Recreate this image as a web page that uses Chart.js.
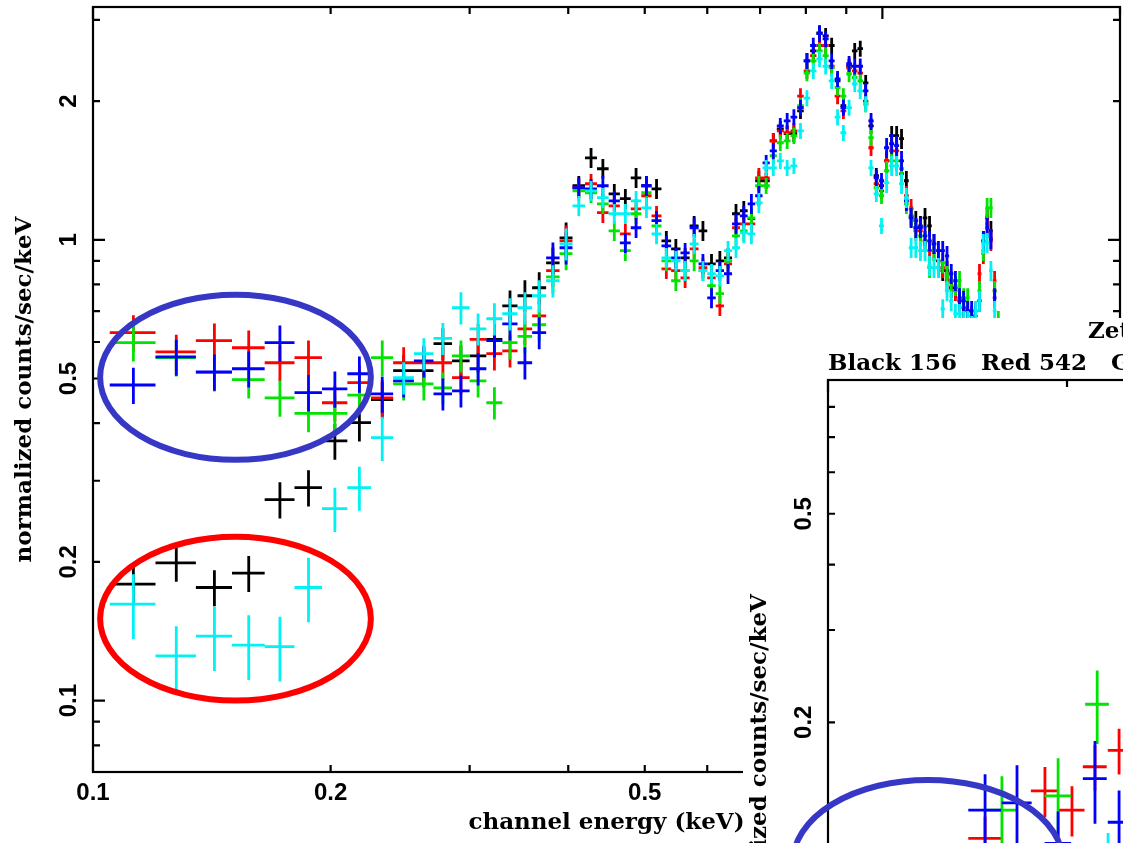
<!DOCTYPE html>
<html>
<head>
<meta charset="utf-8">
<title>Spectrum</title>
<script src="https://cdn.jsdelivr.net/npm/chart.js@4.4.1/dist/chart.umd.min.js"></script>
<style>
  html, body { margin: 0; padding: 0; background: #fff; }
  #page { position: relative; width: 1123px; height: 843px; overflow: hidden; background: #fff; }
  #main { position: absolute; left: 0; top: 0; }
  #insetBox { position: absolute; left: 743px; top: 318px; width: 1125px; height: 900px; background: #fff; }
  #inset { position: absolute; left: 0; top: 0; }
</style>
</head>
<body>
<div id="page">
  <canvas id="main" width="1123" height="843"></canvas>
  <div id="insetBox"><canvas id="inset" width="1125" height="900"></canvas></div>
</div>
<script>
// channel centres (keV), 0.015 keV wide bins
const energy = [
  0.1125,0.1275,0.1425,0.1575,0.1725,0.1875,0.2025,0.2175,0.2325,0.2475,
  0.2625,0.2775,0.2925,0.3075,0.3225,0.3375,0.3525,0.3675,0.3825,0.3975,
  0.4125,0.4275,0.4425,0.4575,0.4725,0.4875,0.5025,0.5175,0.5325,0.5475,
  0.5625,0.5775,0.5925,0.6075,0.6225,0.6375,0.6525,0.6675,0.6825,0.6975,
  0.7125,0.7275,0.7425,0.7575,0.7725,0.7875,0.8025,0.8175,0.8325,0.8475,
  0.8625,0.8775,0.8925,0.9075,0.9225,0.9375,0.9525,0.9675,0.9825,0.9975,
  1.0125,1.0275,1.0425,1.0575,1.0725,1.0875,1.1025,1.1175,1.1325,1.1475,
  1.1625,1.1775,1.1925,1.2075,1.2225,1.2375,1.2525,1.2675,1.2825,1.2975,
  1.3125,1.3275,1.3425,1.3575,1.3725,1.3875,1.4025,1.4175
];
const halfBin = 0.0075;

// normalized counts/sec/keV per spectrum
const black = [
  0.179,0.199,0.176,0.189,0.273,0.290,0.366,0.401,0.450,0.520,
  0.520,0.595,0.546,0.560,0.608,0.719,0.756,0.787,0.891,1.010,
  1.310,1.506,1.426,1.258,1.228,1.363,1.310,1.290,0.995,0.956,
  0.914,1.072,1.046,0.887,0.900,0.914,1.139,1.156,1.111,1.343,
  1.343,1.640,1.741,1.699,1.699,1.905,2.445,2.570,2.810,2.770,
  2.640,2.213,1.955,2.380,2.570,2.600,2.190,1.767,1.377,1.310,
  1.484,1.682,1.682,1.657,1.343,1.127,1.100,1.072,1.116,1.072,
  0.980,0.900,0.857,0.857,0.787,0.787,0.737,0.712,0.701,0.667,
  0.667,0.737,0.995,1.116,1.046,0.775,0.617,0.533
];
const red = [
  0.629,0.571,0.604,0.583,0.541,0.555,0.443,0.490,0.454,0.541,
  0.541,0.541,0.502,0.608,0.566,0.574,0.641,0.684,0.857,0.995,
  1.297,1.323,1.145,1.185,1.030,1.167,1.246,1.127,0.865,0.857,
  0.827,0.956,0.870,0.827,0.719,0.887,1.062,1.083,1.083,1.363,
  1.363,1.640,1.724,1.707,1.724,2.050,2.326,2.510,2.640,2.640,
  2.380,2.050,1.905,2.360,2.326,2.300,2.000,1.584,1.323,1.277,
  1.484,1.560,1.560,1.391,1.246,1.167,1.046,1.046,0.995,0.947,
  0.947,0.870,0.870,0.815,0.815,0.775,0.737,0.737,0.701,0.684,
  0.700,0.844,0.933,1.083,0.995,0.815,0.635,0.546
];
const green = [
  0.598,0.555,0.515,0.497,0.454,0.420,0.420,0.460,0.555,0.487,
  0.487,0.477,0.560,0.494,0.443,0.598,0.617,0.654,0.831,0.933,
  1.277,1.265,1.197,1.046,0.947,1.139,1.265,1.072,0.900,0.815,
  0.857,0.900,0.857,0.795,0.764,0.900,1.020,1.046,1.116,1.310,
  1.310,1.522,1.624,1.640,1.682,1.955,2.300,2.445,2.570,2.510,
  2.360,2.140,2.050,2.290,2.250,2.213,1.970,1.665,1.297,1.246,
  1.412,1.484,1.484,1.426,1.197,1.116,1.062,1.020,0.995,0.870,
  0.947,0.947,0.891,0.835,0.815,0.795,0.815,0.748,0.748,0.667,
  0.667,0.775,0.947,1.173,1.173,0.775,0.667,0.560
];
const blue = [
  0.484,0.557,0.517,0.525,0.598,0.466,0.475,0.512,0.463,0.494,
  0.546,0.463,0.470,0.525,0.604,0.657,0.541,0.629,0.914,0.961,
  1.297,1.290,1.310,1.215,0.985,1.062,1.310,1.100,0.970,0.914,
  0.937,1.062,0.887,0.748,0.857,0.844,1.083,1.127,1.197,1.246,
  1.469,1.560,1.767,1.812,1.845,1.935,2.445,2.640,2.800,2.730,
  2.445,2.235,1.935,2.410,2.380,2.380,2.105,1.812,1.363,1.343,
  1.584,1.616,1.600,1.484,1.215,1.116,1.062,1.062,1.020,0.995,
  0.980,0.947,0.947,0.923,0.844,0.815,0.748,0.737,0.701,0.701,
  0.684,0.737,0.995,1.062,1.005,0.748,0.635,0.546
];
const cyan = [
  0.162,0.125,0.138,0.132,0.131,0.176,0.261,0.290,0.372,0.502,
  0.566,0.611,0.712,0.641,0.674,0.691,0.712,0.756,0.815,0.980,
  1.185,1.277,1.234,1.139,1.139,1.215,1.173,1.030,0.914,0.900,
  0.857,0.980,0.857,0.844,0.835,0.947,0.961,1.035,1.030,1.203,
  1.433,1.433,1.484,1.433,1.447,1.724,2.030,2.326,2.470,2.380,
  2.213,1.845,1.707,1.935,2.180,2.105,1.970,1.433,1.258,1.072,
  1.330,1.447,1.447,1.323,1.234,0.961,0.961,0.947,0.947,0.878,
  0.870,0.870,0.708,0.775,0.737,0.691,0.691,0.667,0.667,0.651,
  0.701,0.737,0.980,0.985,0.857,0.701,0.604,0.520
];

// fractional 1-sigma errors
const relErr = [
  0.09,0.09,0.09,0.09,0.09,0.09,0.09,0.09,0.09,0.08,
  0.08,0.08,0.08,0.08,0.08,0.08,0.08,0.08,0.08,0.08,
  0.05,0.05,0.05,0.05,0.05,0.05,0.05,0.05,0.05,0.05,
  0.05,0.05,0.05,0.05,0.05,0.05,0.05,0.05,0.05,0.05,
  0.04,0.04,0.04,0.04,0.04,0.04,0.04,0.04,0.04,0.04,
  0.04,0.04,0.04,0.04,0.04,0.04,0.04,0.04,0.04,0.04,
  0.05,0.05,0.05,0.05,0.05,0.05,0.05,0.05,0.05,0.05,
  0.05,0.05,0.05,0.05,0.05,0.05,0.05,0.05,0.05,0.05,
  0.05,0.05,0.05,0.05,0.05,0.05,0.05,0.05
];
const cyanRelErr = [
  0.16,0.16,0.16,0.16,0.16,0.16,0.11,0.11,0.11,0.08,
  0.08,0.08,0.08,0.08,0.08,0.08,0.08,0.08,0.08,0.08,
  0.05,0.05,0.05,0.05,0.05,0.05,0.05,0.05,0.05,0.05,
  0.05,0.05,0.05,0.05,0.05,0.05,0.05,0.05,0.05,0.05,
  0.04,0.04,0.04,0.04,0.04,0.04,0.04,0.04,0.04,0.04,
  0.04,0.04,0.04,0.04,0.04,0.04,0.04,0.04,0.04,0.04,
  0.05,0.05,0.05,0.05,0.05,0.05,0.05,0.05,0.05,0.05,
  0.05,0.05,0.05,0.05,0.05,0.05,0.05,0.05,0.05,0.05,
  0.05,0.05,0.05,0.05,0.05,0.05,0.05,0.05
];

// second panel (lower right)
const insetRedE   = [0.1577, 0.1876, 0.2029, 0.2169, 0.2326];
const insetRed    = [0.1201, 0.1480, 0.1360, 0.1645, 0.1767];
const insetRedErr = [0.10, 0.11, 0.11, 0.10, 0.10];
const insetGreenE   = [0.1656, 0.1949, 0.2183];
const insetGreen    = [0.1360, 0.1447, 0.2165];
const insetGreenErr = [0.16, 0.18, 0.16];
const insetBlueE   = [0.1577, 0.1730, 0.1949, 0.2169, 0.2326];
const insetBlue    = [0.1360, 0.1403, 0.1175, 0.1561, 0.1289];
const insetBlueErr = [0.17, 0.18, 0.15, 0.18, 0.15];
const insetCyanE   = [0.2253];
const insetCyan    = [0.1060];
const insetCyanErr = [0.16];

// axis labels
const xTickLabels = ['0.1', '0.2', '0.5', '1', '2'];
const yTickLabels = ['0.1', '0.2', '0.5', '1', '2'];
const insetYTickLabels = ['0.1', '0.2', '0.5'];
const xTitle = 'channel energy (keV)';
const yTitle = 'normalized counts/sec/keV';

const COLORS = { black: '#000000', red: '#ff0000', green: '#00e400', blue: '#0000ff', cyan: '#00f2f2' };

function series(label, color, xs, ys, errs) {
  return {
    label, borderColor: color, backgroundColor: color,
    pointRadius: 0, showLine: false,
    data: xs.map((e, i) => ({ x: e, y: ys[i], xe: halfBin, ye: errs[i] }))
  };
}

function logTicks(min, max) {
  const out = [];
  for (let e = Math.floor(Math.log10(min)); e <= Math.ceil(Math.log10(max)); e++) {
    for (let m = 1; m <= 9; m++) {
      const v = m * Math.pow(10, e);
      if (v >= min * 0.999 && v <= max * 1.001) out.push({ v, major: m === 1 });
    }
  }
  return out;
}

// error-bar crosses, drawn in dataset order
const crossPlugin = {
  id: 'crosses',
  afterDatasetsDraw(chart) {
    const { ctx, chartArea: a, scales: { x, y } } = chart;
    ctx.save();
    ctx.beginPath();
    ctx.rect(a.left, a.top, a.right - a.left, a.bottom - a.top);
    ctx.clip();
    ctx.lineWidth = 2.8;
    chart.data.datasets.forEach(ds => {
      ctx.strokeStyle = ds.borderColor;
      ctx.beginPath();
      ds.data.forEach(p => {
        const cx = x.getPixelForValue(p.x), cy = y.getPixelForValue(p.y);
        ctx.moveTo(x.getPixelForValue(p.x - p.xe), cy);
        ctx.lineTo(x.getPixelForValue(p.x + p.xe), cy);
        ctx.moveTo(cx, y.getPixelForValue(p.y * (1 + p.ye)));
        ctx.lineTo(cx, y.getPixelForValue(p.y * (1 - p.ye)));
      });
      ctx.stroke();
    });
    ctx.restore();
  }
};

// box with inward log ticks, rotated y labels, titles
function axesPlugin(cfg) {
  return {
    id: 'axesFrame',
    afterDraw(chart) {
      const { ctx, chartArea: a, scales: { x, y } } = chart;
      ctx.save();
      ctx.strokeStyle = '#000';
      ctx.lineWidth = 2.2;
      ctx.strokeRect(a.left, a.top, a.right - a.left, a.bottom - a.top);
      ctx.beginPath();
      logTicks(x.min, x.max).forEach(t => {
        const px = x.getPixelForValue(t.v), len = t.major ? 12 : 7;
        ctx.moveTo(px, a.bottom); ctx.lineTo(px, a.bottom - len);
        ctx.moveTo(px, a.top); ctx.lineTo(px, a.top + len);
      });
      logTicks(y.min, y.max).forEach(t => {
        const py = y.getPixelForValue(t.v), len = t.major ? 12 : 7;
        ctx.moveTo(a.left, py); ctx.lineTo(a.left + len, py);
        ctx.moveTo(a.right, py); ctx.lineTo(a.right - len, py);
      });
      ctx.stroke();

      ctx.fillStyle = '#000';
      ctx.textAlign = 'center';
      ctx.textBaseline = 'middle';
      ctx.font = 'bold 24px "Liberation Sans", Arial, sans-serif';
      cfg.xLabels.forEach(s => ctx.fillText(s, x.getPixelForValue(Number(s)), a.bottom + 21));
      cfg.yLabels.forEach(s => {
        ctx.save();
        ctx.translate(a.left - 24, y.getPixelForValue(Number(s)));
        ctx.rotate(-Math.PI / 2);
        ctx.fillText(s, 0, 0);
        ctx.restore();
      });

      ctx.font = 'bold 23px "DejaVu Serif", serif';
      ctx.fillText(cfg.xTitle, (a.left + a.right) / 2, a.bottom + 51);
      ctx.save();
      ctx.translate(a.left - 68, (a.top + a.bottom) / 2);
      ctx.rotate(-Math.PI / 2);
      ctx.fillText(cfg.yTitle, 0, 0);
      ctx.restore();

      if (cfg.header) {
        ctx.textAlign = 'left';
        ctx.textBaseline = 'alphabetic';
        cfg.header.forEach(h => ctx.fillText(h.text, a.left + h.dx, a.top + h.dy));
      }
      ctx.restore();
    }
  };
}

// hand-drawn highlight rings, bounds given in data units
function ringPlugin(rings) {
  return {
    id: 'rings',
    afterDraw(chart) {
      const { ctx, scales: { x, y } } = chart;
      rings.forEach(r => {
        const x0 = x.getPixelForValue(r.xMin), x1 = x.getPixelForValue(r.xMax);
        const y0 = y.getPixelForValue(r.yMax), y1 = y.getPixelForValue(r.yMin);
        ctx.save();
        ctx.strokeStyle = r.color;
        ctx.lineWidth = 6;
        ctx.beginPath();
        ctx.ellipse((x0 + x1) / 2, (y0 + y1) / 2, (x1 - x0) / 2, (y1 - y0) / 2, 0, 0, Math.PI * 2);
        ctx.stroke();
        ctx.restore();
      });
    }
  };
}

function spectrumChart(id, datasets, o) {
  return new Chart(document.getElementById(id), {
    type: 'scatter',
    data: { datasets },
    options: {
      responsive: false,
      animation: false,
      events: [],
      layout: { padding: o.padding },
      plugins: { legend: { display: false }, tooltip: { enabled: false } },
      scales: {
        x: { type: 'logarithmic', min: o.xMin, max: o.xMax, display: false },
        y: { type: 'logarithmic', min: o.yMin, max: o.yMax, display: false }
      }
    },
    plugins: [crossPlugin, axesPlugin(o.axes), ringPlugin(o.rings)]
  });
}

spectrumChart('main', [
  series('Black', COLORS.black, energy, black, relErr),
  series('Red', COLORS.red, energy, red, relErr),
  series('Green', COLORS.green, energy, green, relErr),
  series('Blue', COLORS.blue, energy, blue, relErr),
  series('Cyan', COLORS.cyan, energy, cyan, cyanRelErr)
], {
  padding: { left: 93, top: 7, right: 3, bottom: 71 },
  xMin: 0.1, xMax: 2.0, yMin: 0.07, yMax: 3.2,
  axes: { xLabels: xTickLabels, yLabels: yTickLabels, xTitle, yTitle },
  rings: [
    { xMin: 0.1021, xMax: 0.2249, yMin: 0.333, yMax: 0.760, color: '#3737c6' },
    { xMin: 0.1021, xMax: 0.2249, yMin: 0.100, yMax: 0.2268, color: '#ff0000' }
  ]
});

spectrumChart('inset', [
  series('Red', COLORS.red, insetRedE, insetRed, insetRedErr),
  series('Green', COLORS.green, insetGreenE, insetGreen, insetGreenErr),
  series('Blue', COLORS.blue, insetBlueE, insetBlue, insetBlueErr),
  series('Cyan', COLORS.cyan, insetCyanE, insetCyan, insetCyanErr)
], {
  padding: { left: 85, top: 62, right: 7, bottom: 64 },
  xMin: 0.1, xMax: 2.0, yMin: 0.03, yMax: 0.9,
  axes: {
    xLabels: xTickLabels, yLabels: insetYTickLabels, xTitle, yTitle,
    header: [
      { text: 'Zeta', dx: 260, dy: -42 },
      { text: 'Black 156   Red 542   Green', dx: 0, dy: -10 }
    ]
  },
  rings: [
    { xMin: 0.0903, xMax: 0.1977, yMin: 0.0752, yMax: 0.1552, color: '#3737c6' }
  ]
});
</script>
</body>
</html>
